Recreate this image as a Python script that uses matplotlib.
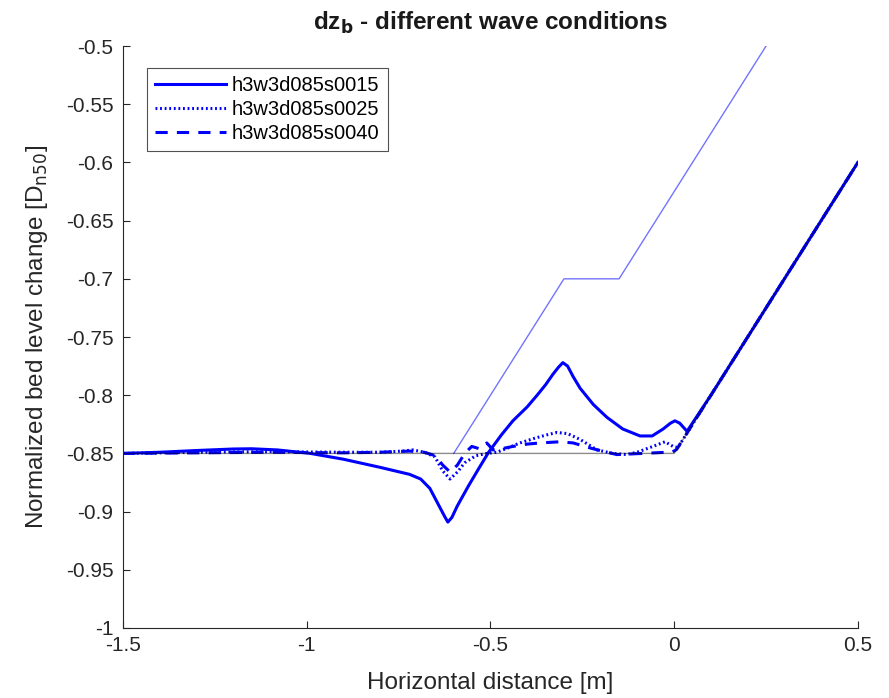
import numpy as np
import matplotlib.pyplot as plt

plt.rcParams['font.family'] = ['Liberation Sans', 'DejaVu Sans']

# initial profile and reference profile
x_init = [-1.5, 0.0, 0.5]
z_init = [-0.85, -0.85, -0.6]
x_ref = [-0.6, -0.3, -0.15, 0.25]
z_ref = [-0.85, -0.7, -0.7, -0.5]

# h3w3d085s0015
x_s15 = [-1.5, -1.4, -1.3, -1.2, -1.15, -1.08, -0.99, -0.9, -0.8, -0.72, -0.69,
         -0.665, -0.64, -0.625, -0.616, -0.605, -0.59, -0.56, -0.53, -0.505,
         -0.47, -0.439, -0.40, -0.373, -0.35, -0.33, -0.315, -0.303, -0.29,
         -0.275, -0.256, -0.22, -0.183, -0.14, -0.093, -0.06, -0.030, -0.01,
         0.002, 0.015, 0.035, 0.1, 0.2, 0.3, 0.4, 0.5]
z_s15 = [-0.85, -0.849, -0.8475, -0.8462, -0.846, -0.847, -0.85, -0.855, -0.862,
         -0.868, -0.872, -0.880, -0.895, -0.904, -0.909, -0.905, -0.895, -0.878,
         -0.862, -0.849, -0.834, -0.822, -0.810, -0.800, -0.791, -0.782, -0.776,
         -0.772, -0.775, -0.784, -0.794, -0.808, -0.819, -0.829, -0.835, -0.835,
         -0.829, -0.824, -0.822, -0.824, -0.831, -0.8, -0.75, -0.70, -0.65, -0.6]

# h3w3d085s0025
x_s25 = [-1.5, -1.3, -1.1, -0.9, -0.8, -0.74, -0.711, -0.68, -0.651, -0.63,
         -0.610, -0.59, -0.57, -0.54, -0.51, -0.483, -0.45, -0.42, -0.38,
         -0.346, -0.319, -0.29, -0.256, -0.21, -0.167, -0.13, -0.101, -0.058,
         -0.025, -0.003, 0.010, 0.1, 0.2, 0.3, 0.4, 0.5]
z_s25 = [-0.85, -0.849, -0.8485, -0.849, -0.849, -0.848, -0.847, -0.849, -0.853,
         -0.865, -0.872, -0.866, -0.858, -0.852, -0.85, -0.849, -0.845, -0.841,
         -0.837, -0.834, -0.832, -0.833, -0.838, -0.847, -0.850, -0.851, -0.849,
         -0.844, -0.840, -0.844, -0.845, -0.8, -0.75, -0.70, -0.65, -0.6]

# h3w3d085s0040
x_s40 = [-1.5, -1.3, -1.1, -0.9, -0.8, -0.72, -0.68, -0.65, -0.63, -0.61,
         -0.59, -0.57, -0.551, -0.53, -0.51, -0.493, -0.47, -0.439, -0.40,
         -0.365, -0.311, -0.275, -0.221, -0.156, -0.085, -0.020, -0.006, 0.007,
         0.1, 0.2, 0.3, 0.4, 0.5]
z_s40 = [-0.85, -0.8495, -0.849, -0.8495, -0.849, -0.848, -0.849, -0.852, -0.860,
         -0.866, -0.860, -0.850, -0.844, -0.846, -0.841, -0.847, -0.846, -0.844,
         -0.842, -0.841, -0.840, -0.841, -0.846, -0.851, -0.850, -0.849, -0.849,
         -0.8465, -0.8, -0.75, -0.70, -0.65, -0.6]

labels = ['h3w3d085s0015', 'h3w3d085s0025', 'h3w3d085s0040']

fig = plt.figure(figsize=(8.89, 6.98), dpi=100)
ax = fig.add_axes([0.1384, 0.1003, 0.8266, 0.8337])

blue = '#0000ff'
ax.plot(x_s15, z_s15, color=blue, lw=2.2, ls='-', label=labels[0])
ax.plot(x_s25, z_s25, color=blue, lw=2.2, ls=(0, (0.6, 0.9)), label=labels[1])
ax.plot(x_s40, z_s40, color=blue, lw=2.2, ls=(0, (4, 3)), label=labels[2])
ax.plot(x_ref, z_ref, color=blue, lw=1.0, alpha=0.55)
ax.plot(x_init, z_init, color='black', lw=1.0, alpha=0.45)

ax.set_xlim(-1.5, 0.5)
ax.set_ylim(-1.0, -0.5)
ax.set_xticks([-1.5, -1, -0.5, 0, 0.5])
ax.set_xticklabels(['-1.5', '-1', '-0.5', '0', '0.5'])
yt = np.arange(-1.0, -0.49, 0.05)
ax.set_yticks(yt)
ax.set_yticklabels(['-1', '-0.95', '-0.9', '-0.85', '-0.8', '-0.75', '-0.7',
                    '-0.65', '-0.6', '-0.55', '-0.5'])
for s in ['top', 'right']:
    ax.spines[s].set_visible(False)
for s in ['left', 'bottom']:
    ax.spines[s].set_color('#262626')
    ax.spines[s].set_linewidth(0.8)
ax.tick_params(direction='in', length=5, width=0.8, colors='#262626',
               labelsize=15)
ax.tick_params(axis='y', pad=7)
ax.tick_params(axis='x', pad=6)

ax.set_xlabel('Horizontal distance [m]', fontsize=17.5, color='#262626',
              labelpad=12)
ax.set_ylabel('Normalized bed level change [D$_{\\mathrm{n50}}$]', fontsize=17.5,
              color='#262626', labelpad=11)
ax.set_title('dz$_{\\mathbf{b}}$ - different wave conditions', fontsize=17.5,
             fontweight='bold', color='#1a1a1a', pad=12)

leg = ax.legend(loc='upper left', bbox_to_anchor=(0.033, 0.962), fontsize=14.5,
                handlelength=3.5, frameon=True, fancybox=False,
                borderaxespad=0.0, handletextpad=0.3, labelspacing=0.25)
leg.get_frame().set_edgecolor('#262626')
leg.get_frame().set_linewidth(0.8)

fig.savefig('out.png', dpi=100)
